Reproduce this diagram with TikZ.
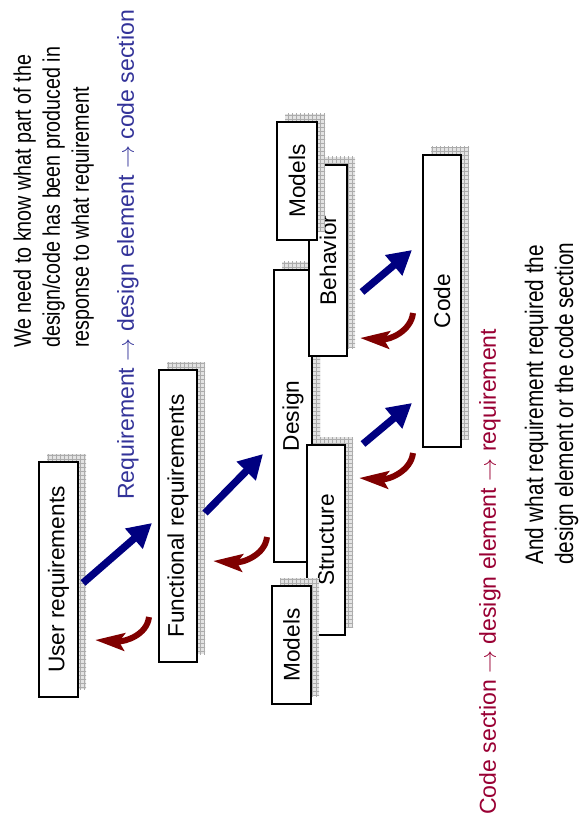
\documentclass[tikz,border=0pt]{standalone}
\usepackage{graphicx}
\usepackage{fontspec}
\setmainfont{Liberation Sans}
\usetikzlibrary{arrows.meta,patterns}

\definecolor{arrowblue}{RGB}{0,0,128}
\definecolor{arrowred}{RGB}{128,0,0}
\definecolor{textblue}{RGB}{51,51,153}
\definecolor{textred}{RGB}{153,0,51}

\tikzset{
  box/.style={draw=black, line width=0.9pt, fill=white, inner sep=0pt, outer sep=0pt,
    font=\fontsize{17}{20}\selectfont},
  shadowfill/.style={fill=gray!22, postaction={pattern=grid, pattern color=gray!65}},
  fwd/.style={draw=arrowblue, line width=5.5pt, -{Triangle[length=18pt,width=19pt]}},
  back/.style={draw=arrowred, line width=4.5pt, -{Stealth[length=22pt,width=13pt,inset=4pt]}},
  note/.style={rotate=90, anchor=west, inner sep=0pt},
  trail/.style={rotate=90, anchor=west, inner sep=0pt, font=\fontsize{17.3}{20}\selectfont},
}

% a box with its hatched drop shadow: name, centre x, centre y, width, height, label
\newcommand\tracebox[6]{%
  \fill[shadowfill] ({#2-#4/2+8},{#3-#5/2-8}) rectangle ++(#4,#5);
  \node[box, minimum width={#4*0.75pt}, minimum height={#5*0.75pt}] (#1) at (#2,#3) {\rotatebox{90}{#6}};
}
% condensed left-aligned block of lines
\newcommand\narrowlines[1]{\scalebox{0.82}[1]{\begin{tabular}{@{}l@{}}#1\end{tabular}}}

\begin{document}
\begin{tikzpicture}[x=0.75pt, y=-0.75pt]
\useasboundingbox (0,0) rectangle (581,823);

% development stages
\tracebox{ureq}{58.5}{579.5}{39}{235}{User requirements}
\tracebox{freq}{178}{516}{38}{292}{Functional requirements}
\tracebox{design}{293}{416}{38}{292}{Design}
\tracebox{behavior}{328}{260.5}{38}{191}{Behavior}
\tracebox{modelsA}{297}{181}{40}{118}{Models}
\tracebox{structure}{326}{540}{38}{190}{Structure}
\tracebox{modelsB}{291.5}{645}{39}{118}{Models}
\tracebox{code}{442}{301}{38}{292}{Code}

% arrow ends
\coordinate (f1s) at (83,583);  \coordinate (f1e) at (152,523);
\coordinate (f2s) at (205,513); \coordinate (f2e) at (263,454);
\coordinate (f3s) at (362,292); \coordinate (f3e) at (412,250);
\coordinate (f4s) at (363,444); \coordinate (f4e) at (412,403);
\coordinate (b1s) at (149,617); \coordinate (b1e) at (95,640);
\coordinate (b2s) at (267,537); \coordinate (b2e) at (213,561);
\coordinate (b3s) at (413,313); \coordinate (b3e) at (360,338);
\coordinate (b4s) at (413,453); \coordinate (b4e) at (359,478);

% forward tracing
\draw[fwd] (f1s) -- (f1e);
\draw[fwd] (f2s) -- (f2e);
\draw[fwd] (f3s) -- (f3e);
\draw[fwd] (f4s) -- (f4e);

% backward tracing
\draw[back] (b1s) .. controls +(-2,18) and +(30,2) .. (b1e);
\draw[back] (b2s) .. controls +(-2,18) and +(30,2) .. (b2e);
\draw[back] (b3s) .. controls +(-2,18) and +(30,2) .. (b3e);
\draw[back] (b4s) .. controls +(-2,18) and +(30,2) .. (b4e);

% captions
\node[note, font=\fontsize{18}{21.75}\selectfont] (need) at (54,348)
  {\narrowlines{We need to know what part of the\\design/code has been produced in\\response to what requirement}};
\node[trail, text=textblue] (fwdlabel) at (128,500)
  {Requirement $\rightarrow$ design element $\rightarrow$ code section};
\node[trail, text=textred] (backlabel) at (490,815)
  {Code section $\rightarrow$ design element $\rightarrow$ requirement};
\node[note, font=\fontsize{19}{22.5}\selectfont] (asked) at (552,565)
  {\narrowlines{And what requirement required the\\design element or the code section}};
\end{tikzpicture}
\end{document}
